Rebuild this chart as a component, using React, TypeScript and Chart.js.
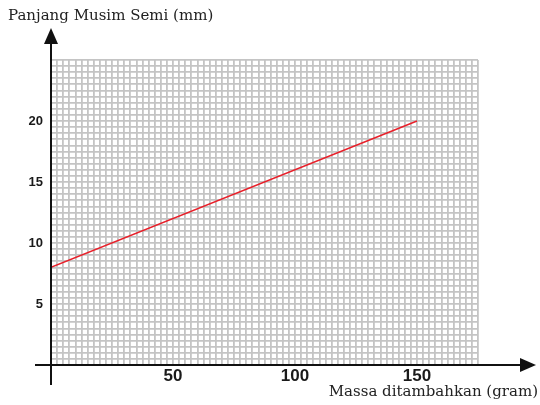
import React, { useEffect, useRef } from "react";
import { Chart, registerables } from "chart.js";

Chart.register(...registerables);

const massValues = [0, 150];
const lengthValues = [8, 20];
const xTickLabels = [50, 100, 150];
const yTickLabels = [5, 10, 15, 20];
const xTitle = "Massa ditambahkan (gram)";
const yTitle = "Panjang Musim Semi (mm)";

const near = (v: number, list: number[]) => list.some((t) => Math.abs(t - v) < 1e-6);

const axesPlugin = {
  id: "axesArrows",
  afterDraw(chart: any) {
    const ctx = chart.ctx;
    const xs = chart.scales.x;
    const ys = chart.scales.y;
    const x0 = xs.getPixelForValue(0);
    const y0 = ys.getPixelForValue(0);
    ctx.save();
    ctx.strokeStyle = "#111";
    ctx.fillStyle = "#111";
    ctx.lineWidth = 2;
    // x axis
    ctx.beginPath();
    ctx.moveTo(x0 - 16, y0);
    ctx.lineTo(522, y0);
    ctx.stroke();
    ctx.beginPath();
    ctx.moveTo(536, y0);
    ctx.lineTo(520, y0 - 7);
    ctx.lineTo(520, y0 + 7);
    ctx.closePath();
    ctx.fill();
    // y axis
    ctx.beginPath();
    ctx.moveTo(x0, y0 + 20);
    ctx.lineTo(x0, 42);
    ctx.stroke();
    ctx.beginPath();
    ctx.moveTo(x0, 28);
    ctx.lineTo(x0 - 7, 44);
    ctx.lineTo(x0 + 7, 44);
    ctx.closePath();
    ctx.fill();
    // titles
    ctx.fillStyle = "#222";
    ctx.font = "15px 'DejaVu Serif'";
    ctx.textBaseline = "alphabetic";
    ctx.textAlign = "left";
    ctx.fillText(yTitle, 8, 20);
    ctx.textAlign = "right";
    ctx.fillText(xTitle, 538, 396);
    ctx.restore();
  },
};

export default function App() {
  const ref = useRef<HTMLCanvasElement | null>(null);
  useEffect(() => {
    if (!ref.current) return;
    const chart = new Chart(ref.current, {
      type: "scatter",
      data: {
        datasets: [
          {
            data: massValues.map((m, i) => ({ x: m, y: lengthValues[i] })),
            showLine: true,
            borderColor: "#e8202a",
            borderWidth: 1.5,
            pointRadius: 0,
            fill: false,
          },
        ],
      },
      options: {
        animation: false,
        responsive: false,
        plugins: { legend: { display: false }, tooltip: { enabled: false } },
        layout: { padding: { left: 0, top: 60, right: 62, bottom: 0 } },
        scales: {
          x: {
            type: "linear",
            min: 0,
            max: 175,
            afterFit: (s: any) => {
              s.height = 40;
            },
            border: { display: false },
            grid: { color: "#c4c4c4", lineWidth: 1.8, drawTicks: false, tickLength: 0 },
            ticks: {
              stepSize: 2.5,
              autoSkip: false,
              maxRotation: 0,
              padding: 1,
              color: "#1a1a1a",
              font: { family: "'Liberation Sans', Arial", weight: "bold", size: 17 },
              callback: (v: any) => (near(Number(v), xTickLabels) ? String(v) : ""),
            },
          },
          y: {
            type: "linear",
            min: 0,
            max: 25,
            afterFit: (s: any) => {
              s.width = 51;
            },
            border: { display: false },
            grid: { color: "#c4c4c4", lineWidth: 1.8, drawTicks: false, tickLength: 0 },
            ticks: {
              stepSize: 0.5,
              autoSkip: false,
              padding: 8,
              color: "#1a1a1a",
              font: { family: "'Liberation Sans', Arial", weight: "bold", size: 13 },
              callback: (v: any) => (near(Number(v), yTickLabels) ? String(v) : ""),
            },
          },
        },
      },
      plugins: [axesPlugin],
    } as any);
    return () => chart.destroy();
  }, []);
  return (
    <div style={{ position: "fixed", left: 0, top: 0, width: 540, height: 405, background: "#fff" }}>
      <canvas ref={ref} width={540} height={405} style={{ display: "block" }} />
    </div>
  );
}
